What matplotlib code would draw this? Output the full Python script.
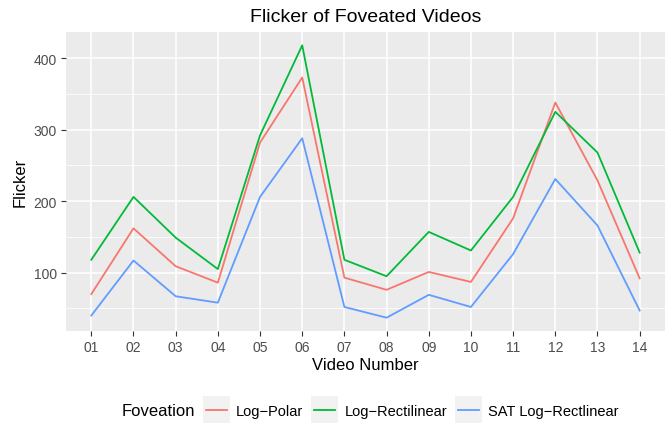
import matplotlib
matplotlib.use("Agg")
import matplotlib.pyplot as plt
from matplotlib.legend_handler import HandlerLine2D
from matplotlib.lines import Line2D
from matplotlib.patches import Rectangle

plt.rcParams['font.family'] = ['Liberation Sans', 'DejaVu Sans']

# data
videos = ["01", "02", "03", "04", "05", "06", "07", "08", "09", "10", "11", "12", "13", "14"]
log_polar = [70, 162, 109, 86, 282, 373, 93, 76, 101, 87, 176, 338, 229, 92]
log_rectilinear = [118, 206, 149, 105, 292, 418, 118, 95, 157, 131, 206, 325, 268, 128]
sat_log_rectlinear = [40, 117, 67, 58, 206, 288, 52, 37, 69, 52, 126, 231, 166, 47]
series_names = ["Log\u2212Polar", "Log\u2212Rectilinear", "SAT Log\u2212Rectlinear"]
colors = ["#F8766D", "#00BA38", "#619CFF"]


class KeyHandler(HandlerLine2D):
    # ggplot style legend key: grey square with line across
    def create_artists(self, legend, orig_handle, xdescent, ydescent, width, height, fontsize, trans):
        size = 19.4
        x0 = -xdescent + (width - size) / 2
        y0 = -ydescent + (height - size) / 2
        box = Rectangle((x0, y0), size, size, facecolor="#F2F2F2", edgecolor="none", transform=trans)
        ym = y0 + size / 2
        line = Line2D([x0 + 2.2, x0 + size - 2.2], [ym, ym], color=orig_handle.get_color(),
                      linewidth=orig_handle.get_linewidth(), transform=trans)
        return [box, line]


fig = plt.figure(figsize=(6.7, 4.27), dpi=100)
ax = fig.add_axes([0.0985, 0.2225, 0.894, 0.7005])
ax.set_facecolor("#EBEBEB")

xs = list(range(len(videos)))
handles = []
for vals, name, c in zip([log_polar, log_rectilinear, sat_log_rectlinear], series_names, colors):
    h, = ax.plot(xs, vals, color=c, linewidth=1.3, label=name, zorder=3)
    handles.append(h)

ax.set_xlim(-0.6, len(videos) - 1 + 0.6)
ax.set_ylim(18.4, 436.8)
ax.set_xticks(xs)
ax.set_xticklabels(videos)
ax.set_yticks([100, 200, 300, 400])
ax.set_yticks([50, 150, 250, 350], minor=True)

ax.grid(which="major", color="white", linewidth=1.1, zorder=1)
ax.grid(which="minor", axis="y", color="white", linewidth=0.55, zorder=1)
ax.set_axisbelow(True)
for s in ax.spines.values():
    s.set_visible(False)
ax.tick_params(which="major", length=3.5, width=0.8, color="#333333", labelcolor="#4D4D4D",
               labelsize=10, pad=3)
ax.tick_params(which="minor", length=0)

ax.set_xlabel("Video Number", fontsize=12, labelpad=2)
ax.set_ylabel("Flicker", fontsize=12, labelpad=4)
ax.set_title("Flicker of Foveated Videos", fontsize=14, pad=8)

fig.text(0.182, 0.036, "Foveation", fontsize=12, ha="left", va="center")
fig.legend(handles=handles, labels=series_names, loc="center left", bbox_to_anchor=(0.303, 0.036),
           ncol=3, frameon=False, fontsize=10.5, handlelength=1.85, handletextpad=0.42,
           columnspacing=0.55, borderpad=0, borderaxespad=0,
           handler_map={Line2D: KeyHandler()})

fig.savefig("out.png", dpi=100)
